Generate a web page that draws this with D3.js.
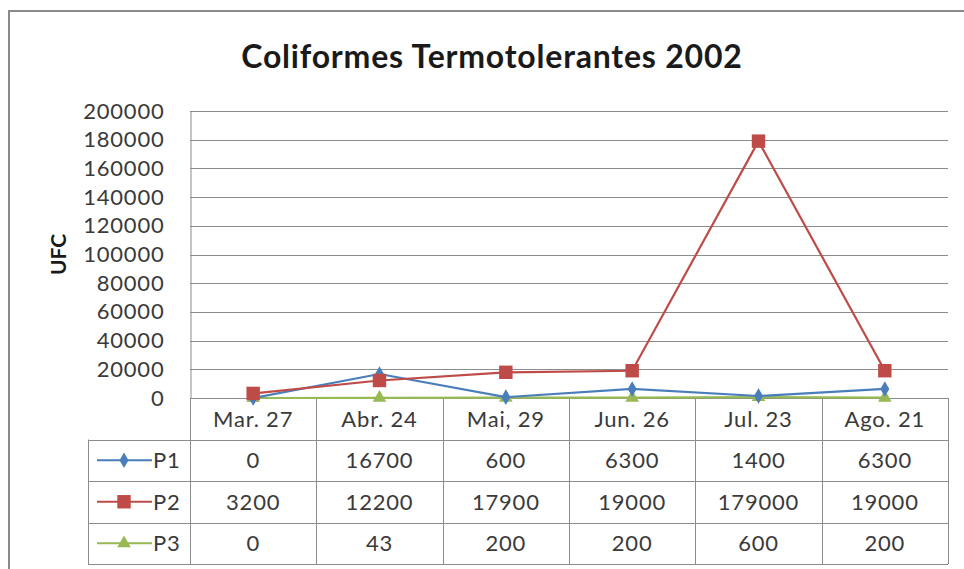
<!DOCTYPE html>
<html>
<head>
<meta charset="utf-8">
<script src="https://cdn.jsdelivr.net/npm/d3@7"></script>
<style>
  html, body { margin: 0; padding: 0; background: #fff; }
  svg { display: block; font-family: Lato, "Open Sans", sans-serif; }
</style>
</head>
<body>
<svg id="chart" width="964" height="569"></svg>
<script>
// Sampling dates and counts per point
const categories = ["Mar. 27", "Abr. 24", "Mai, 29", "Jun. 26", "Jul. 23", "Ago. 21"];
const p1 = [0, 16700, 600, 6300, 1400, 6300];
const p2 = [3200, 12200, 17900, 19000, 179000, 19000];
const p3 = [0, 43, 200, 200, 600, 200];
const seriesNames = ["P1", "P2", "P3"];
const yTicks = [0, 20000, 40000, 60000, 80000, 100000, 120000, 140000, 160000, 180000, 200000];

const series = [
  { name: seriesNames[0], values: p1, color: "#4A7EBB", marker: "diamond" },
  { name: seriesNames[1], values: p2, color: "#BE4B48", marker: "square" },
  { name: seriesNames[2], values: p3, color: "#98B954", marker: "triangle" }
];

const svg = d3.select("#chart");
const plot = { left: 190, right: 948, top: 111, bottom: 398 };
const rowH = 41.5;
const tableLeft = 88;
const gridColor = "#8c8c8c";
const textColor = "#3a3a3a";

// Outer frame (left and top edges)
svg.append("path")
  .attr("d", `M9,569 V11 H964`)
  .attr("fill", "none").attr("stroke", "#8a8a8a").attr("stroke-width", 2);

// Title
svg.append("text")
  .attr("x", 492).attr("y", 68)
  .attr("text-anchor", "middle")
  .attr("font-size", 32).attr("font-weight", "bold").attr("fill", "#1a1a1a")
  .attr("letter-spacing", 0.8)
  .text("Coliformes Termotolerantes 2002");

const x = d3.scaleBand().domain(categories).range([plot.left, plot.right]);
const y = d3.scaleLinear().domain([0, 200000]).range([plot.bottom, plot.top]);

// Gridlines
svg.append("g").selectAll("line").data(yTicks.filter(t => t > 0)).join("line")
  .attr("x1", plot.left).attr("x2", plot.right)
  .attr("y1", d => Math.round(y(d)) + 0.5).attr("y2", d => Math.round(y(d)) + 0.5)
  .attr("stroke", gridColor).attr("stroke-width", 1);

// Y axis
const yAxis = svg.append("g")
  .attr("transform", `translate(${plot.left + 0.5},0)`)
  .call(d3.axisLeft(y).tickValues(yTicks).tickSize(0).tickPadding(26).tickFormat(d3.format("d")));
yAxis.select(".domain").attr("stroke", gridColor);
yAxis.selectAll("text")
  .attr("font-size", 22).attr("fill", textColor).attr("letter-spacing", 0.8)
  .attr("font-family", "Lato, sans-serif");

// Axis title
svg.append("text")
  .attr("transform", `translate(66,${(plot.top + plot.bottom) / 2}) rotate(-90)`)
  .attr("text-anchor", "middle")
  .attr("font-size", 21).attr("font-weight", "bold").attr("fill", "#1a1a1a")
  .text("UFC");

// Data table beneath the plot
const table = svg.append("g");
const tableBottom = plot.bottom + rowH * 4;
table.append("line")
  .attr("x1", plot.left).attr("x2", plot.right)
  .attr("y1", plot.bottom + 0.5).attr("y2", plot.bottom + 0.5)
  .attr("stroke", gridColor);
[1, 2, 3, 4].forEach(r => {
  table.append("line")
    .attr("x1", tableLeft).attr("x2", plot.right)
    .attr("y1", Math.round(plot.bottom + rowH * r) + 0.5).attr("y2", Math.round(plot.bottom + rowH * r) + 0.5)
    .attr("stroke", gridColor);
});
table.append("line")
  .attr("x1", tableLeft + 0.5).attr("x2", tableLeft + 0.5)
  .attr("y1", plot.bottom + rowH).attr("y2", tableBottom)
  .attr("stroke", gridColor);
d3.range(categories.length + 1).forEach(i => {
  const xx = Math.round(plot.left + x.bandwidth() * i) + 0.5;
  table.append("line")
    .attr("x1", xx).attr("x2", xx)
    .attr("y1", plot.bottom).attr("y2", tableBottom)
    .attr("stroke", gridColor);
});
// category labels
table.selectAll("text.cat").data(categories).join("text")
  .attr("class", "cat")
  .attr("x", d => x(d) + x.bandwidth() / 2)
  .attr("y", plot.bottom + rowH / 2 + 8)
  .attr("text-anchor", "middle").attr("font-size", 22).attr("fill", textColor)
  .attr("letter-spacing", 0.8)
  .text(d => d);

function markerPath(type, size) {
  const sym = type === "diamond" ? d3.symbolDiamond : type === "square" ? d3.symbolSquare : d3.symbolTriangle;
  return d3.symbol().type(sym).size(size)();
}
const markerSize = { diamond: 70, square: 180, triangle: 80 };

series.forEach((s, si) => {
  const rowY = plot.bottom + rowH * (si + 1) + rowH / 2;
  // legend key
  table.append("line")
    .attr("x1", 97).attr("x2", 152).attr("y1", rowY).attr("y2", rowY)
    .attr("stroke", s.color).attr("stroke-width", 2);
  table.append("path")
    .attr("d", markerPath(s.marker, markerSize[s.marker]))
    .attr("transform", `translate(124,${rowY})`)
    .attr("fill", s.color);
  table.append("text")
    .attr("x", 153).attr("y", rowY + 8)
    .attr("font-size", 22).attr("fill", textColor).attr("letter-spacing", 0.8)
    .text(s.name);
  // values
  table.selectAll(null).data(s.values).join("text")
    .attr("x", (d, i) => x(categories[i]) + x.bandwidth() / 2)
    .attr("y", rowY + 8)
    .attr("text-anchor", "middle").attr("font-size", 22).attr("fill", textColor)
    .attr("letter-spacing", 0.8)
    .text(d => d);
});

// Series lines and markers (green drawn first, red on top)
const line = d3.line()
  .x((d, i) => x(categories[i]) + x.bandwidth() / 2)
  .y(d => y(d));
[series[2], series[0], series[1]].forEach(s => {
  svg.append("path")
    .datum(s.values)
    .attr("d", line)
    .attr("fill", "none").attr("stroke", s.color).attr("stroke-width", 2.2);
  svg.append("g").selectAll("path").data(s.values).join("path")
    .attr("d", markerPath(s.marker, markerSize[s.marker]))
    .attr("transform", (d, i) => `translate(${x(categories[i]) + x.bandwidth() / 2},${y(d)})`)
    .attr("fill", s.color);
});
</script>
</body>
</html>
